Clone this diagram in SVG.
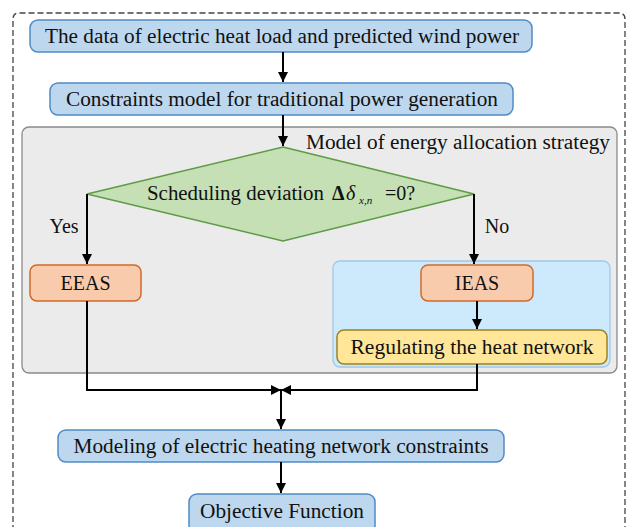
<svg xmlns="http://www.w3.org/2000/svg" width="629" height="527" viewBox="0 0 629 527">
<style>
text{font-family:"Liberation Serif","Times New Roman",serif;font-size:20px;fill:#111;text-anchor:middle;dominant-baseline:central}
.blue{fill:#bdd7ee;stroke:#4f8ac6;stroke-width:1.5}
.orange{fill:#f8cbad;stroke:#d2692a;stroke-width:1.5}
.yellow{fill:#ffe699;stroke:#9b8220;stroke-width:1.5}
.line{fill:none;stroke:#000;stroke-width:2}
</style>
<defs>
<marker id="ah" viewBox="0 0 10 10" refX="10" refY="5" markerWidth="5" markerHeight="5" orient="auto" markerUnits="strokeWidth">
<path d="M0,0 L10,5 L0,10 z" fill="#000"/>
</marker>
</defs>
<rect width="629" height="527" fill="#fff"/>
<g id="outer">
<path d="M13,540 L13,19 Q13,13 19,13 L619,13 Q625,13 625,19 L625,540" fill="none" stroke="#444" stroke-width="1.3" stroke-dasharray="6,3"/>
</g>
<g id="strategy-group">
<rect x="22" y="127" width="595" height="246" rx="7" fill="#ebebeb" stroke="#8a8a8a" stroke-width="1.3"/>
<text x="458" y="142" textLength="304" lengthAdjust="spacingAndGlyphs">Model of energy allocation strategy</text>
</g>
<g id="ieas-group">
<rect x="333" y="261" width="277" height="106" rx="7" fill="#cdeafc" stroke="#9fc8ea" stroke-width="1.3"/>
</g>
<g id="n1">
<rect class="blue" x="30" y="20" width="502" height="32" rx="8"/>
<text x="282" y="36" textLength="474" lengthAdjust="spacingAndGlyphs">The data of electric heat load and predicted wind power</text>
</g>
<g id="n2">
<rect class="blue" x="50" y="83" width="463" height="32" rx="8"/>
<text x="282" y="99" textLength="432" lengthAdjust="spacingAndGlyphs">Constraints model for traditional power generation</text>
</g>
<g id="decision">
<polygon points="283,147 474,194 283,241 87,194" fill="#c5e0b4" stroke="#5f9a45" stroke-width="1.5"/>
<text x="147" y="193" style="text-anchor:start" textLength="177" lengthAdjust="spacingAndGlyphs">Scheduling deviation</text>
<text x="332" y="193" style="text-anchor:start;font-weight:bold">Δ</text>
<text x="346" y="193" style="text-anchor:start;font-style:italic">δ</text>
<text x="359" y="200" style="text-anchor:start;font-style:italic;font-size:11px">x,n</text>
<text x="385" y="193" style="text-anchor:start">=0?</text>
</g>
<g id="eeas">
<rect class="orange" x="30" y="265" width="111" height="36" rx="7"/>
<text x="85.5" y="283">EEAS</text>
</g>
<g id="ieas">
<rect class="orange" x="421" y="265" width="112" height="36" rx="7"/>
<text x="477" y="283">IEAS</text>
</g>
<g id="regulating">
<rect class="yellow" x="337" y="330" width="270" height="34" rx="7"/>
<text x="472" y="347" textLength="243" lengthAdjust="spacingAndGlyphs">Regulating the heat network</text>
</g>
<g id="n3">
<rect class="blue" x="58" y="430" width="446" height="32" rx="8"/>
<text x="281" y="446" textLength="415" lengthAdjust="spacingAndGlyphs">Modeling of electric heating network constraints</text>
</g>
<g id="n4">
<rect class="blue" x="189" y="494" width="186" height="40" rx="8"/>
<text x="282" y="511" textLength="164" lengthAdjust="spacingAndGlyphs">Objective Function</text>
</g>
<g id="connectors">
<line class="line" x1="283" y1="52" x2="283" y2="82" marker-end="url(#ah)"/>
<line class="line" x1="283" y1="115" x2="283" y2="146" marker-end="url(#ah)"/>
<polyline class="line" points="87,194 87,264" marker-end="url(#ah)"/>
<polyline class="line" points="474,194 474,264" marker-end="url(#ah)"/>
<line class="line" x1="477" y1="301" x2="477" y2="329" marker-end="url(#ah)"/>
<polyline class="line" points="87,301 87,390 281,390" marker-end="url(#ah)"/>
<polyline class="line" points="477,364 477,390 281,390" marker-end="url(#ah)"/>
<line class="line" x1="281" y1="390" x2="281" y2="429" marker-end="url(#ah)"/>
<line class="line" x1="281" y1="462" x2="281" y2="493" marker-end="url(#ah)"/>
<text x="64" y="226">Yes</text>
<text x="497" y="226">No</text>
</g>
</svg>
